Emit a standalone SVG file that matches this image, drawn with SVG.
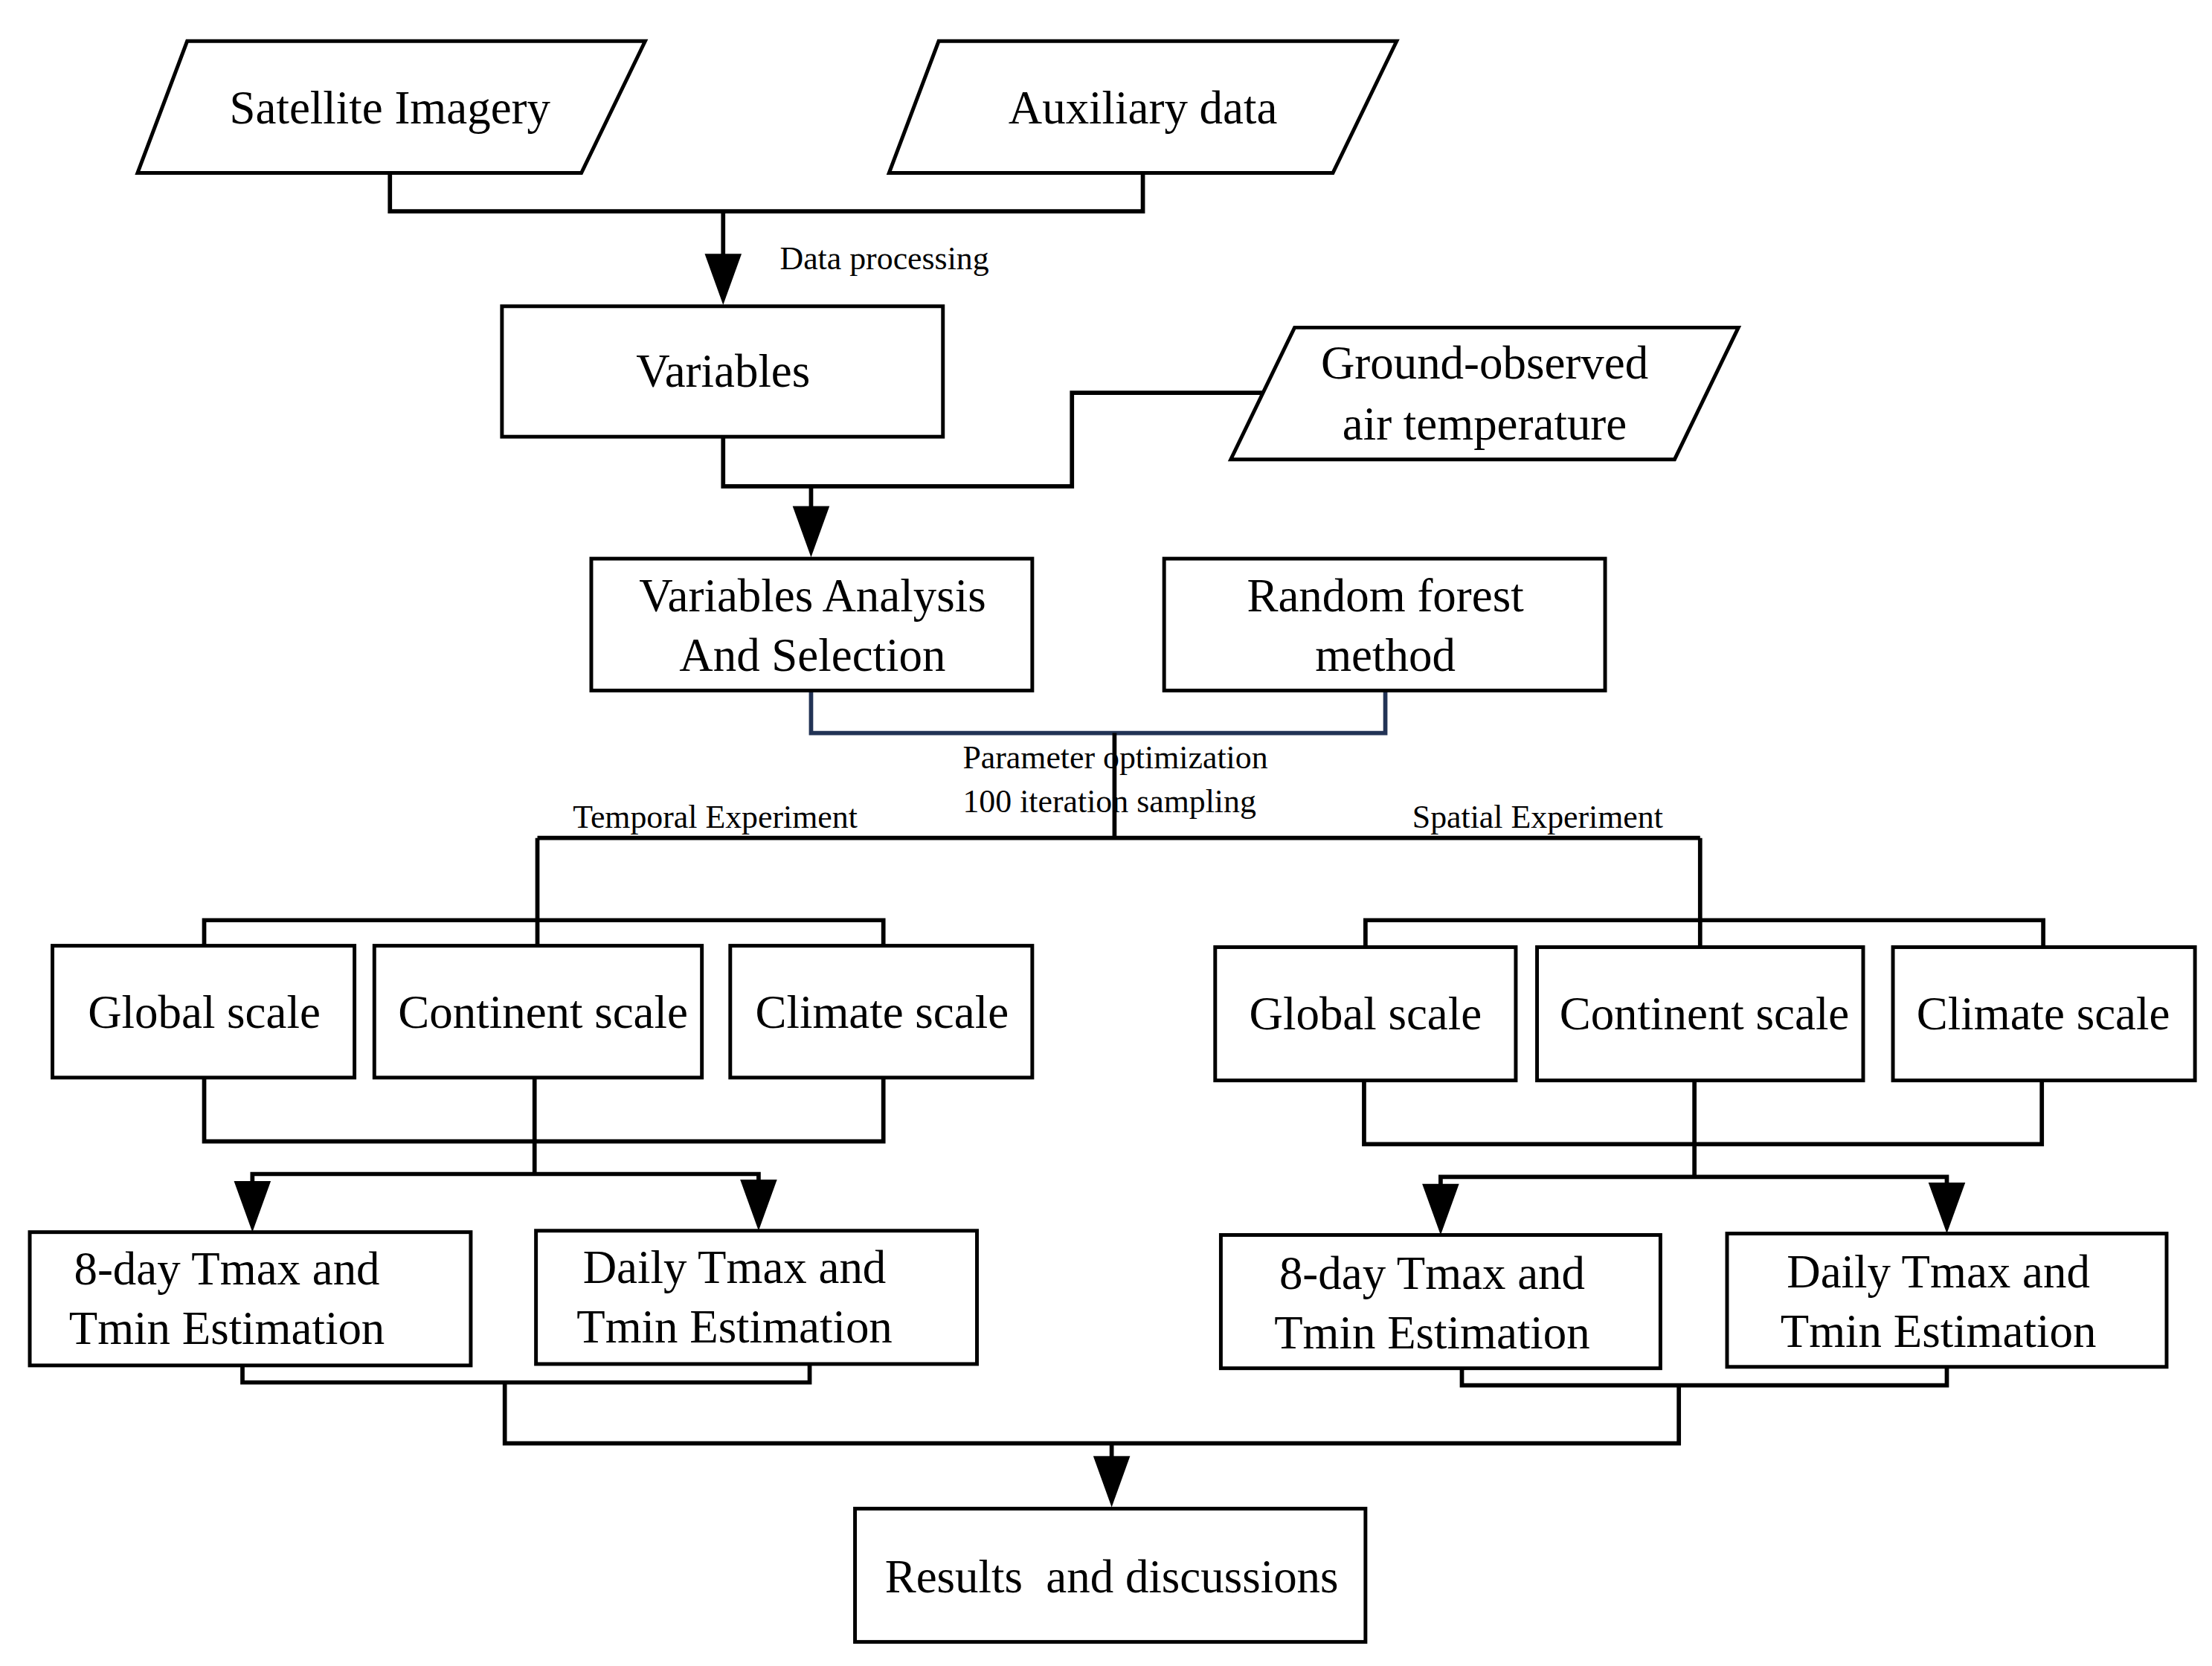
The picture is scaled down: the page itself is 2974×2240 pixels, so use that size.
<svg xmlns="http://www.w3.org/2000/svg" width="2974" height="2240" viewBox="0 0 2974 2240">
<style>
.n{fill:#fff;stroke:#000;stroke-width:2.6}
.c{fill:none;stroke:#000;stroke-width:3}
.t{font-family:"Liberation Serif","Times New Roman",serif;font-size:33px;text-anchor:middle;fill:#000}
.s{font-family:"Liberation Serif","Times New Roman",serif;font-size:23px;fill:#000}
</style>
<defs><marker id="a" viewBox="0 0 10 10" refX="10" refY="5" markerWidth="8.5" markerHeight="8.5" markerUnits="userSpaceOnUse" orient="auto"><path d="M0,0L10,5L0,10z"/></marker>
<path id="ah" d="M-13,-36L13,-36L0,0z"/></defs>
<rect width="2974" height="2240" fill="#fff"/>
<g transform="scale(1.9064)">
<g id="connectors">
<path class="c" d="M275,122V149H806V122M510,149V182"/>
<use href="#ah" x="510" y="215"/>
<path class="c" d="M510,308V343H756V277H892M572,343V360"/>
<use href="#ah" x="572" y="393"/>
<path class="c" d="M572,487V517H977V487" style="stroke:#223355"/>
<path class="c" d="M786,517V591M379,591H1199"/>
<path class="c" d="M379,591V667M144,667V649H623V667"/>
<path class="c" d="M144,760V805H623V760M377,760V828M178,835V828H535V835"/>
<use href="#ah" x="178" y="869"/><use href="#ah" x="535" y="868"/>
<path class="c" d="M1199,591V668M963,668V649H1441V668"/>
<path class="c" d="M962,762V807H1440V762M1195,762V830M1016,838V830H1373V838"/>
<use href="#ah" x="1016" y="871"/><use href="#ah" x="1373" y="870"/>
<path class="c" d="M171,963V975H571V962M356,975V1018H1184V977M1031,965V977H1373V964M784,1018V1030"/>
<use href="#ah" x="784" y="1063"/>
<text class="s" x="550" y="190">Data processing</text>
<text class="s" x="679" y="542">Parameter optimization</text>
<text class="s" x="679" y="573">100 iteration sampling</text>
<text class="s" x="404" y="584">Temporal Experiment</text>
<text class="s" x="996" y="584">Spatial Experiment</text>
</g>
<g id="satellite"><path class="n" d="M132,29H455L410,122H97z"/><text class="t" x="275" y="87">Satellite Imagery</text></g>
<g id="auxiliary"><path class="n" d="M662,29H985L940,122H627z"/><text class="t" x="806" y="87">Auxiliary data</text></g>
<g id="variables"><rect class="n" x="354" y="216" width="311" height="92"/><text class="t" x="510" y="273">Variables</text></g>
<g id="ground"><path class="n" d="M913,231H1226L1181,324H868z"/><text class="t" x="1047" y="267">Ground-observed</text><text class="t" x="1047" y="310">air temperature</text></g>
<g id="vas"><rect class="n" x="417" y="394" width="311" height="93"/><text class="t" x="573" y="431">Variables Analysis</text><text class="t" x="573" y="473">And Selection</text></g>
<g id="rf"><rect class="n" x="821" y="394" width="311" height="93"/><text class="t" x="977" y="431">Random forest</text><text class="t" x="977" y="473">method</text></g>
<g id="tglobal"><rect class="n" x="37" y="667" width="213" height="93"/><text class="t" x="144" y="725">Global scale</text></g>
<g id="tcontinent"><rect class="n" x="264" y="667" width="231" height="93"/><text class="t" x="383" y="725">Continent scale</text></g>
<g id="tclimate"><rect class="n" x="515" y="667" width="213" height="93"/><text class="t" x="622" y="725">Climate scale</text></g>
<g id="sglobal"><rect class="n" x="857" y="668" width="212" height="94"/><text class="t" x="963" y="726">Global scale</text></g>
<g id="scontinent"><rect class="n" x="1084" y="668" width="230" height="94"/><text class="t" x="1202" y="726">Continent scale</text></g>
<g id="sclimate"><rect class="n" x="1335" y="668" width="213" height="94"/><text class="t" x="1441" y="726">Climate scale</text></g>
<g id="t8day"><rect class="n" x="21" y="869" width="311" height="94"/><text class="t" x="160" y="906">8-day Tmax and</text><text class="t" x="160" y="948">Tmin Estimation</text></g>
<g id="tdaily"><rect class="n" x="378" y="868" width="311" height="94"/><text class="t" x="518" y="905">Daily Tmax and</text><text class="t" x="518" y="947">Tmin Estimation</text></g>
<g id="s8day"><rect class="n" x="861" y="871" width="310" height="94"/><text class="t" x="1010" y="909">8-day Tmax and</text><text class="t" x="1010" y="951">Tmin Estimation</text></g>
<g id="sdaily"><rect class="n" x="1218" y="870" width="310" height="94"/><text class="t" x="1367" y="908">Daily Tmax and</text><text class="t" x="1367" y="950">Tmin Estimation</text></g>
<g id="results"><rect class="n" x="603" y="1064" width="360" height="94"/><text class="t" x="784" y="1123" xml:space="preserve">Results  and discussions</text></g>
</g>
</svg>
